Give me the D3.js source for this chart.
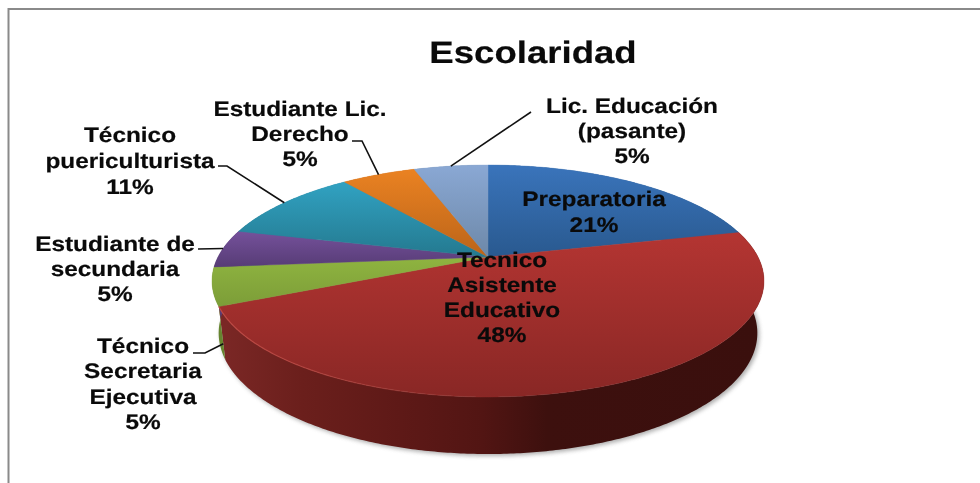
<!DOCTYPE html>
<html>
<head>
<meta charset="utf-8">
<script src="https://cdn.jsdelivr.net/npm/d3@7"></script>
<style>
  html, body { margin: 0; padding: 0; background: #fff; overflow: hidden; }
  svg { filter: blur(0.4px); }
  text { font-family: "Liberation Sans", Arial, sans-serif; font-weight: bold; fill: #0a0a0a; stroke: #0a0a0a; stroke-width: 0.2px; text-rendering: geometricPrecision; }
</style>
</head>
<body>
<div id="chart"></div>
<script>
// Escolaridad: 3D pie (perspective tilted), PowerPoint look
const categories = ["Preparatoria", "Tecnico Asistente Educativo", "Técnico Secretaria Ejecutiva",
  "Estudiante de secundaria", "Técnico puericulturista", "Estudiante Lic. Derecho", "Lic. Educación (pasante)"];
// slice sizes as they measure on the picture, the printed percents are below
const values = [21.3, 47.0, 5.3, 5.3, 10.5, 5.3, 5.3];
const percentLabels = ["21%", "48%", "5%", "5%", "11%", "5%", "5%"];
const title = "Escolaridad";

const labelLines = [
  ["Preparatoria"],
  ["Tecnico", "Asistente", "Educativo"],
  ["Técnico", "Secretaria", "Ejecutiva"],
  ["Estudiante de", "secundaria"],
  ["Técnico", "puericulturista"],
  ["Estudiante Lic.", "Derecho"],
  ["Lic. Educación", "(pasante)"]
];
// top colour, bottom colour of each slice
const topColors = ["#3a74bb", "#b43532", "#8fb440", "#75519b", "#31a2c2", "#ea8222", "#8aa8d4"];
const bottomColors = ["#29598f", "#892725", "#7c9d38", "#573c76", "#24798f", "#bb6419", "#6d88a8"];

const width = 980, height = 483;

// label layout: centre x, first baseline, line step
const labelPos = [
  { x: 594, y: 206, step: 26 },
  { x: 502, y: 267, step: 25 },
  { x: 143, y: 353, step: 25.3 },
  { x: 115, y: 251, step: 25 },
  { x: 130, y: 142, step: 26 },
  { x: 300, y: 116, step: 25 },
  { x: 632, y: 113, step: 25 }
];
// leader start points, the last point is found from the slice itself
const leaderStart = [
  null,
  null,
  [[193, 353], [205, 353]],
  [[198, 249]],
  [[218, 166], [227, 166]],
  [[352, 141], [362, 141]],
  [[531, 112]]
];

const svg = d3.select("#chart").append("svg")
  .attr("width", width)
  .attr("height", height);

// Frame, only top and left are inside the picture
svg.append("path")
  .attr("d", d3.line()([[8.5, height], [8.5, 9], [width, 9]]))
  .attr("fill", "none")
  .attr("stroke", "#8a8a8a")
  .attr("stroke-width", 2);

const defs = svg.append("defs");

// Perspective projection of a disc: theta 0 = back, clockwise
const persp = 0.207;
const topRing = { cx: 488, cy: 257, a: 270, b: 111 };
const baseRing = { cx: 488, cy: 308, a: 263.5, b: 115.8 };

function project(ring, theta) {
  const w = 1 + persp * Math.cos(theta);
  return [ring.cx + ring.a * Math.sin(theta) / w, ring.cy - ring.b * Math.cos(theta) / w];
}
function ringPoints(ring, a0, a1) {
  const n = Math.max(2, Math.ceil((a1 - a0) / 0.01));
  return d3.range(n + 1).map(i => project(ring, a0 + (a1 - a0) * i / n));
}

const pie = d3.pie().sort(null)(values);
const line = d3.line();

// soft shadow under the base
defs.append("filter").attr("id", "soft")
  .attr("x", "-5%").attr("y", "-5%").attr("width", "110%").attr("height", "110%")
  .append("feGaussianBlur").attr("stdDeviation", 2.2);

svg.append("path")
  .attr("d", line(ringPoints(baseRing, 0, 2 * Math.PI)) + "Z")
  .attr("transform", "translate(2,2)")
  .attr("fill", "#777")
  .attr("opacity", 0.6)
  .attr("filter", "url(#soft)");

// Side wall
const wallRed = defs.append("linearGradient").attr("id", "wall-red")
  .attr("gradientUnits", "userSpaceOnUse")
  .attr("x1", 215).attr("x2", 760).attr("y1", 0).attr("y2", 0);
[[0, "#7c2826"], [0.16, "#6b1f1c"], [0.34, "#5e1917"], [0.49, "#521513"], [0.61, "#3d100e"], [1, "#3a0f0d"]]
  .forEach(s => wallRed.append("stop").attr("offset", s[0]).attr("stop-color", s[1]));

const wallFill = ["#29598f", "url(#wall-red)", "#66852f", "#573c76", "#24798f", "#bb6419", "#6d88a8"];

svg.append("g").selectAll("path")
  .data(pie)
  .join("path")
  .attr("d", d => {
    const upper = ringPoints(topRing, d.startAngle, d.endAngle);
    const lower = ringPoints(baseRing, d.startAngle, d.endAngle).reverse();
    return line(upper.concat(lower)) + "Z";
  })
  .attr("fill", (d, i) => wallFill[i]);

// Top face
pie.forEach((d, i) => {
  const g = defs.append("linearGradient").attr("id", "slice-" + i)
    .attr("x1", 0).attr("x2", 0).attr("y1", 0).attr("y2", 1);
  g.append("stop").attr("offset", 0).attr("stop-color", topColors[i]);
  g.append("stop").attr("offset", 1).attr("stop-color", bottomColors[i]);
});

svg.append("g").selectAll("path")
  .data(pie)
  .join("path")
  .attr("d", d => line([[topRing.cx, topRing.cy]].concat(ringPoints(topRing, d.startAngle, d.endAngle))) + "Z")
  .attr("fill", (d, i) => `url(#slice-${i})`)
  .attr("stroke", (d, i) => `url(#slice-${i})`)
  .attr("stroke-width", 0.4);

// Thin lit edge on the front left of the red slice, fades out to the right
const rimGlow = defs.append("linearGradient").attr("id", "rim-glow")
  .attr("gradientUnits", "userSpaceOnUse")
  .attr("x1", 220).attr("x2", 500).attr("y1", 0).attr("y2", 0);
rimGlow.append("stop").attr("offset", 0).attr("stop-color", "#c24a44").attr("stop-opacity", 0.9);
rimGlow.append("stop").attr("offset", 1).attr("stop-color", "#c24a44").attr("stop-opacity", 0);

svg.append("path")
  .attr("d", line(ringPoints(topRing, pie[1].startAngle, pie[1].endAngle).filter(p => p[0] < 500)))
  .attr("fill", "none")
  .attr("stroke", "url(#rim-glow)")
  .attr("stroke-width", 1.2);

// Leader lines
function leaderEnd(d, i) {
  const mid = (d.startAngle + d.endAngle) / 2;
  if (i === 2) {
    // this slice only shows on the wall, the leader lands there
    const up = project(topRing, d.startAngle), low = project(baseRing, d.startAngle);
    return [up[0] + (low[0] - up[0]) * 0.7, up[1] + (low[1] - up[1]) * 0.7];
  }
  return project(topRing, mid);
}
svg.append("g").selectAll("path")
  .data(pie.filter((d, i) => leaderStart[i]))
  .join("path")
  .attr("d", d => line(leaderStart[d.index].concat([leaderEnd(d, d.index)])))
  .attr("fill", "none")
  .attr("stroke", "#111")
  .attr("stroke-width", 1.6);

// Labels, horizontally stretched like the source image
function stretched(x, y, size, stretch, str) {
  svg.append("text")
    .attr("transform", `translate(${x},${y}) scale(${stretch},1)`)
    .attr("text-anchor", "middle")
    .style("font-size", size + "px")
    .text(str);
}

pie.forEach((d, i) => {
  const pos = labelPos[i];
  const rows = labelLines[i].concat([percentLabels[i]]);
  rows.forEach((row, r) => stretched(pos.x, pos.y + r * pos.step, 21, 1.16, row));
});

stretched(533, 63, 31, 1.18, title);
</script>
</body>
</html>
